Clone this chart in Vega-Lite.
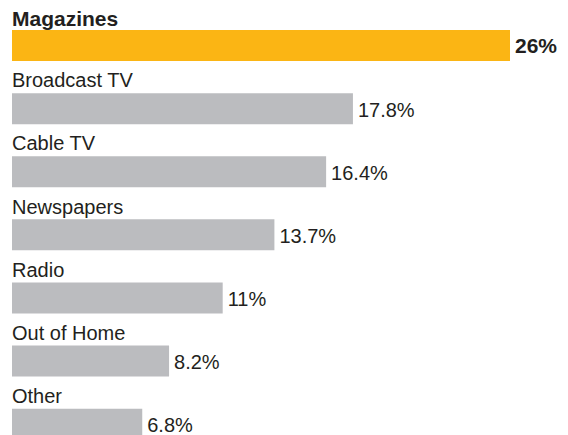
{
  "$schema": "https://vega.github.io/schema/vega-lite/v6.json",
  "autosize": {"type": "none"},
  "width": 498,
  "height": 421,
  "padding": {"left": 12, "top": 14, "right": 58, "bottom": 0},
  "background": "white",
  "config": {"view": {"stroke": null}, "font": "Liberation Sans"},
  "data": {
    "values": [
      {"cat": "Magazines", "value": 26, "label": "26%"},
      {"cat": "Broadcast TV", "value": 17.8, "label": "17.8%"},
      {"cat": "Cable TV", "value": 16.4, "label": "16.4%"},
      {"cat": "Newspapers", "value": 13.7, "label": "13.7%"},
      {"cat": "Radio", "value": 11, "label": "11%"},
      {"cat": "Out of Home", "value": 8.2, "label": "8.2%"},
      {"cat": "Other", "value": 6.8, "label": "6.8%"}
    ]
  },
  "encoding": {
    "y": {
      "field": "cat",
      "type": "nominal",
      "sort": null,
      "axis": null,
      "scale": {"type": "band", "paddingInner": 0, "paddingOuter": 0, "range": [0, 441.7]}
    }
  },
  "layer": [
    {
      "mark": {"type": "bar", "height": 31},
      "encoding": {
        "x": {"field": "value", "type": "quantitative", "axis": null, "scale": {"domain": [0, 26], "range": [0, 498], "nice": false}},
        "color": {
          "condition": {"test": "datum.cat === 'Magazines'", "value": "#FBB514"},
          "value": "#BBBCBF"
        }
      }
    },
    {
      "transform": [{"filter": "datum.cat !== 'Magazines'"}],
      "mark": {"type": "text", "align": "left", "baseline": "alphabetic", "dy": -21.3, "fontSize": 20, "color": "#231F20"},
      "encoding": {
        "x": {"datum": 0, "type": "quantitative"},
        "text": {"field": "cat"}
      }
    },
    {
      "transform": [{"filter": "datum.cat === 'Magazines'"}],
      "mark": {"type": "text", "align": "left", "baseline": "alphabetic", "dy": -19.5, "fontSize": 21, "fontWeight": "bold", "color": "#231F20"},
      "encoding": {
        "x": {"datum": 0, "type": "quantitative"},
        "text": {"field": "cat"}
      }
    },
    {
      "transform": [{"filter": "datum.cat !== 'Magazines'"}],
      "mark": {"type": "text", "align": "left", "baseline": "alphabetic", "dx": 5, "dy": 7.9, "fontSize": 20, "color": "#231F20"},
      "encoding": {
        "x": {"field": "value", "type": "quantitative"},
        "text": {"field": "label"}
      }
    },
    {
      "transform": [{"filter": "datum.cat === 'Magazines'"}],
      "mark": {"type": "text", "align": "left", "baseline": "alphabetic", "dx": 5, "dy": 7.6, "fontSize": 21, "fontWeight": "bold", "color": "#231F20"},
      "encoding": {
        "x": {"field": "value", "type": "quantitative"},
        "text": {"field": "label"}
      }
    }
  ]
}
